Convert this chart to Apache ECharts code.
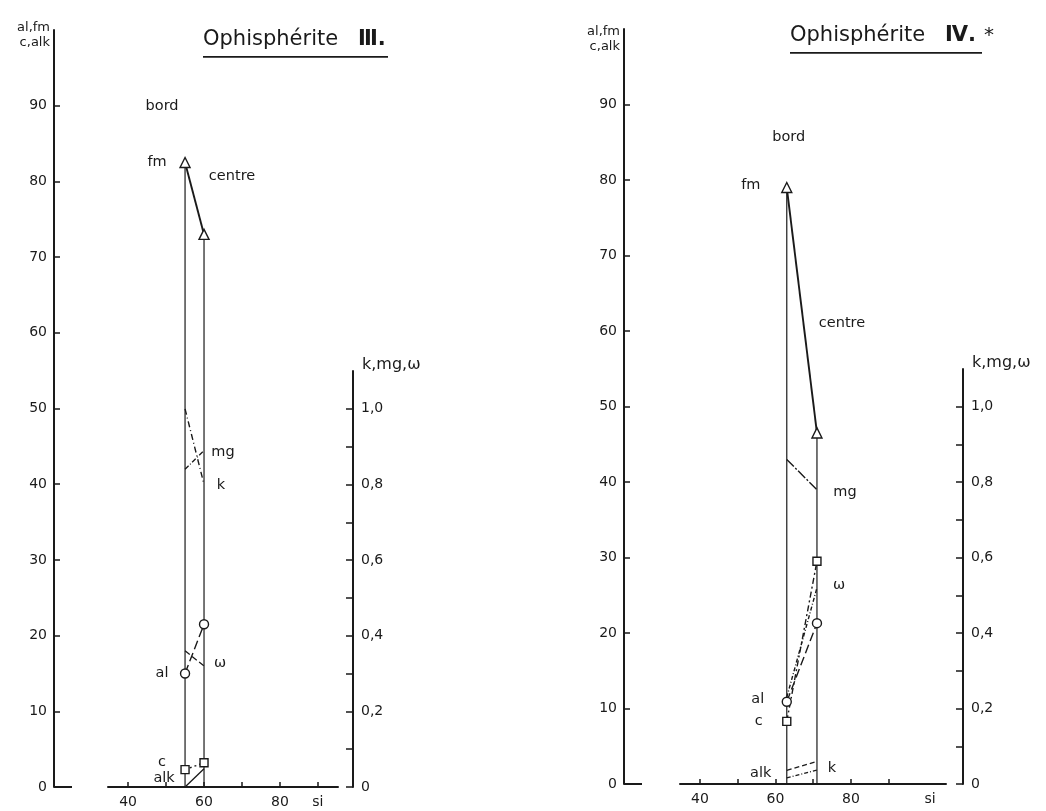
<!DOCTYPE html>
<html><head><meta charset="utf-8">
<script src="https://cdn.jsdelivr.net/npm/echarts@6/dist/echarts.min.js"></script>
<style>html,body{margin:0;padding:0;background:#fff}#c{width:1046px;height:811px}</style>
</head><body><div id="c"></div><script>
// ---- Data: Ophisphérite III (bord, centre) ----
const siIII  = [55, 60];
const fmIII  = [82.5, 73];
const alIII  = [15, 21.5];
const cIII   = [2.3, 3.2];
const alkIII = [0, 2.4];
const kIII   = [1.0, 0.80];
const mgIII  = [0.84, 0.89];
const wIII   = [0.36, 0.32];
// ---- Data: Ophisphérite IV (bord, centre) ----
const siIV  = [63, 71];
const fmIV  = [79, 46.5];
const alIV  = [10.9, 21.3];
const cIV   = [8.3, 29.5];
const alkIV = [1.8, 3.0];
const kIV   = [0.016, 0.037];
const mgIV  = [0.86, 0.78];
const wIV   = [0.23, 0.52];
// ---- Tick values / labels ----
const leftTicks  = [10, 20, 30, 40, 50, 60, 70, 80, 90];
const leftLabels = [0, 10, 20, 30, 40, 50, 60, 70, 80, 90];
const rightTicks = [0, 0.1, 0.2, 0.3, 0.4, 0.5, 0.6, 0.7, 0.8, 0.9, 1.0];
const rightLabels = [0, 0.2, 0.4, 0.6, 0.8, 1.0];
const siTicks = [40, 50, 60, 70, 80, 90];
const siLabels = [40, 60, 80];
const siNamePosIII = 90, siNamePosIV = 101;

const INK = '#1a1a1a';
const FONT = 'DejaVu Sans';

function lbl(text, dx, dy) {
  return {show: true, formatter: text, position: 'inside', offset: [dx, dy],
          color: INK, fontFamily: FONT, fontSize: 14.5};
}
function item(x, y, label) { const o = {value: [x, y]}; if (label) o.label = label; return o; }

function buildChart(cfg) {
  const g = cfg.gi;
  const xa = [
    {gridIndex: g, type: 'value', min: cfg.xmin, max: cfg.xmax,
     axisLine: {show: true, lineStyle: {color: INK, width: 2}},
     axisTick: {show: true, inside: true, length: 5, customValues: siTicks, lineStyle: {color: INK, width: 1.5}},
     axisLabel: {show: true, customValues: siLabels.concat([cfg.siPos]), margin: 8, color: INK, fontFamily: FONT, fontSize: 14,
                 formatter: v => (v === cfg.siPos ? 'si' : String(v))},
     splitLine: {show: false}},
    {gridIndex: g + 1, type: 'value', min: cfg.xmin, max: cfg.xmax, show: false, splitLine: {show: false}}
  ];
  const ya = [
    {gridIndex: g, type: 'value', min: 0, max: 100, position: 'left', offset: cfg.leftOff,
     name: 'al,fm\nc,alk', nameLocation: 'end', nameGap: cfg.nameGapL,
     nameTextStyle: {align: 'right', verticalAlign: 'middle', color: INK, fontFamily: FONT, fontSize: 13, lineHeight: 15, padding: [0, 4, 0, 0]},
     axisLine: {show: true, lineStyle: {color: INK, width: 2}},
     axisTick: {show: true, inside: true, length: 6, customValues: leftTicks, lineStyle: {color: INK, width: 1.5}},
     axisLabel: {show: true, customValues: leftLabels, margin: 7, color: INK, fontFamily: FONT, fontSize: 14},
     splitLine: {show: false}},
    {gridIndex: g + 1, type: 'value', min: 0, max: 1.1, position: 'right', offset: cfg.rightOff,
     name: 'k,mg,ω', nameLocation: 'end', nameGap: 6,
     nameTextStyle: {align: 'left', verticalAlign: 'middle', color: INK, fontFamily: FONT, fontSize: 16, padding: [0, 0, 0, 9]},
     axisLine: {show: true, lineStyle: {color: INK, width: 2}},
     axisTick: {show: true, inside: true, length: 7, customValues: rightTicks, lineStyle: {color: INK, width: 1.5}},
     axisLabel: {show: true, customValues: rightLabels, margin: 8, color: INK, fontFamily: FONT, fontSize: 14,
                 formatter: v => (v === 0 ? '0' : v.toFixed(1).replace('.', ','))},
     splitLine: {show: false}},
    {gridIndex: g, type: 'value', min: 0, max: 100, position: 'left', offset: cfg.leftOff,
     axisLine: {show: false}, axisLabel: {show: false}, splitLine: {show: false},
     axisTick: {show: true, inside: true, length: 18, customValues: [0], lineStyle: {color: INK, width: 2}}}
  ];
  return {xa, ya};
}

function lineSeries(xi, yi, data, lineType, width, symbol, size, extra) {
  return Object.assign({
    type: 'line', xAxisIndex: xi, yAxisIndex: yi, data: data,
    symbol: symbol || 'none', symbolSize: size || 0, showSymbol: true,
    lineStyle: {color: INK, width: width, type: lineType},
    itemStyle: {color: '#fff', borderColor: INK, borderWidth: 1.4},
    emphasis: {disabled: true}, silent: true, animation: false, z: 3
  }, extra || {});
}
const HIDE = {itemStyle: {color: 'rgba(0,0,0,0)', borderWidth: 0}};

function verticals(xi, yi, si, fm, labels) {
  return si.map((s, i) => lineSeries(xi, yi, [item(s, 0), item(s, fm[i], labels[i])], 'solid', 1.2, 'circle', 0.5,
    Object.assign({z: 2}, HIDE)));
}

const A = buildChart({gi: 0, xmin: 34.7, xmax: 95.3, siPos: siNamePosIII, leftOff: 54, rightOff: 15, nameGapL: -5});
const B = buildChart({gi: 2, xmin: 34.7, xmax: 105.2, siPos: siNamePosIV, leftOff: 56, rightOff: 17, nameGapL: -10});
const xAxes = A.xa.concat(B.xa);
const yAxes = A.ya.concat(B.ya);

const series = [
  // III main scale
  ...verticals(0, 0, siIII, fmIII, [lbl('bord', -23, -56), lbl('centre', 28, -58)]),
  lineSeries(0, 0, [item(siIII[0], fmIII[0], lbl('fm', -28, 0)), item(siIII[1], fmIII[1])], 'solid', 1.9, 'triangle', 10),
  lineSeries(0, 0, [item(siIII[0], alIII[0], lbl('al', -23, 0)), item(siIII[1], alIII[1])], [9, 4], 1.4, 'circle', 9),
  lineSeries(0, 0, [item(siIII[0], cIII[0], lbl('c', -23, -7)), item(siIII[1], cIII[1])], [2, 3], 1.4, 'rect', 8),
  lineSeries(0, 0, [item(siIII[0], alkIII[0], lbl('alk', -21, -9)), item(siIII[1], alkIII[1])], 'solid', 1.3, 'circle', 0.5, HIDE),
  // III right scale
  lineSeries(1, 1, [item(siIII[0], kIII[0]), item(siIII[1], kIII[1], lbl('k', 17, 1))], [6, 3, 1, 3], 1.4, 'circle', 0.5, HIDE),
  lineSeries(1, 1, [item(siIII[0], mgIII[0]), item(siIII[1], mgIII[1], lbl('mg', 19, 2))], [5, 2, 1, 2], 1.3, 'circle', 0.5, HIDE),
  lineSeries(1, 1, [item(siIII[0], wIII[0]), item(siIII[1], wIII[1], lbl('ω', 16, -3))], [6, 3], 1.3, 'circle', 0.5, HIDE),
  // IV main scale
  ...verticals(2, 3, siIV, fmIV, [lbl('bord', 2, -50), lbl('centre', 25, -110)]),
  lineSeries(2, 3, [item(siIV[0], fmIV[0], lbl('fm', -36, -2)), item(siIV[1], fmIV[1])], 'solid', 1.9, 'triangle', 10),
  lineSeries(2, 3, [item(siIV[0], alIV[0], lbl('al', -29, -2)), item(siIV[1], alIV[1])], [9, 4], 1.4, 'circle', 9),
  lineSeries(2, 3, [item(siIV[0], cIV[0], lbl('c', -28, 0)), item(siIV[1], cIV[1])], [6, 3, 2, 3], 1.4, 'rect', 8),
  lineSeries(2, 3, [item(siIV[0], alkIV[0], lbl('alk', -26, 3)), item(siIV[1], alkIV[1])], [5, 3], 1.3, 'circle', 0.5, HIDE),
  // IV right scale
  lineSeries(3, 4, [item(siIV[0], kIV[0]), item(siIV[1], kIV[1], lbl('k', 15, -2))], [4, 2, 1, 2], 1.3, 'circle', 0.5, HIDE),
  lineSeries(3, 4, [item(siIV[0], mgIV[0]), item(siIV[1], mgIV[1], lbl('mg', 28, 3))], [10, 2, 2, 2], 1.4, 'circle', 0.5, HIDE),
  lineSeries(3, 4, [item(siIV[0], wIV[0]), item(siIV[1], wIV[1], lbl('ω', 22, -3))], [4, 2, 1, 2], 1.4, 'circle', 0.5, HIDE)
];

function titleGraphic(x, yMid, roman, ulEnd, star) {
  const els = [
    {type: 'text', left: x, top: yMid - 13, style: {text: 'Ophisphérite', fill: INK, font: '21px "' + FONT + '"'}},
    {type: 'text', left: x + 155, top: yMid - 13, style: {text: roman + '.', fill: INK, font: 'bold 21px "' + FONT + '"'}},
    {type: 'rect', left: x, top: yMid + 14, shape: {width: ulEnd - x, height: 1.8}, style: {fill: INK}}
  ];
  if (star) els.push({type: 'text', left: ulEnd + 2, top: yMid - 12, style: {text: '*', fill: INK, font: '20px "' + FONT + '"'}});
  return els;
}

const chart = echarts.init(document.getElementById('c'), null, {renderer: 'canvas'});
chart.setOption({
  backgroundColor: '#ffffff',
  animation: false,
  grid: [
    {left: 108, width: 230, top: 30, height: 757},
    {left: 108, width: 230, top: 371, height: 416},
    {left: 680, width: 266, top: 29, height: 755},
    {left: 680, width: 266, top: 369, height: 415}
  ],
  xAxis: xAxes,
  yAxis: yAxes,
  series: series,
  graphic: titleGraphic(203, 42, 'Ⅲ', 388, false).concat(titleGraphic(790, 38, 'Ⅳ', 982, true))
});
</script></body></html>
